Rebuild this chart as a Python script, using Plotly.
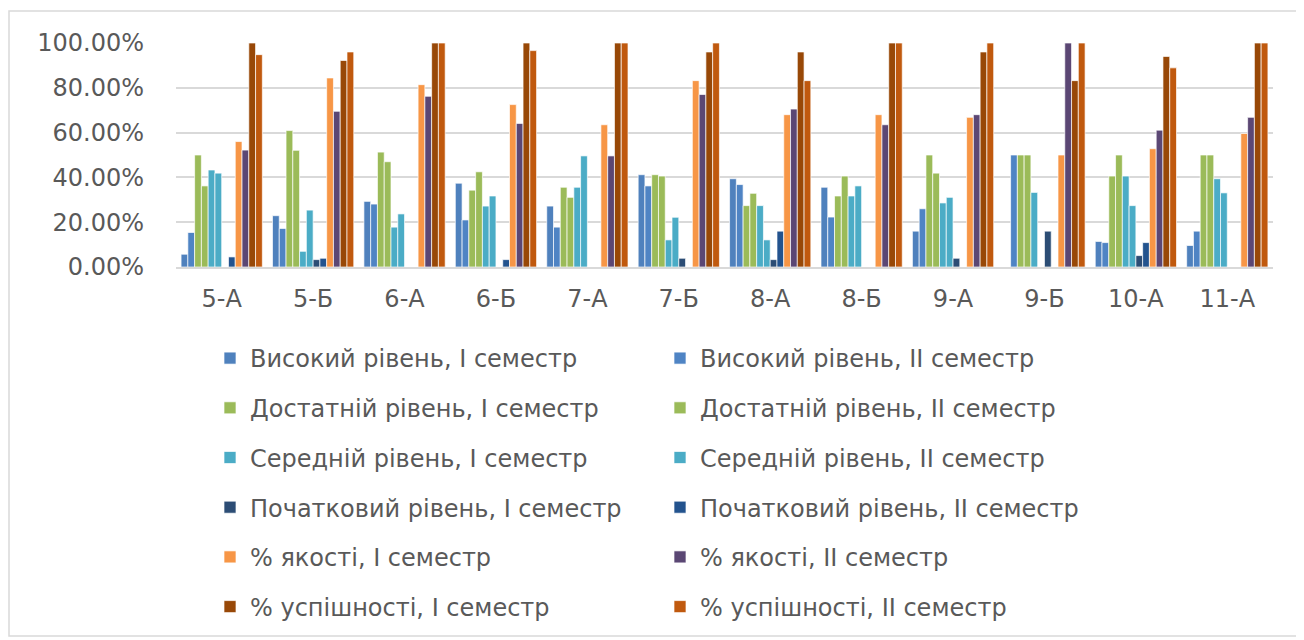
import plotly.graph_objects as go

categories = ['5-А', '5-Б', '6-А', '6-Б', '7-А', '7-Б', '8-А', '8-Б', '9-А', '9-Б', '10-А', '11-А']

high_1 = [5.7, 22.9, 29.3, 37.4, 27.2, 41.2, 39.4, 35.6, 16.0, 0.0, 11.4, 9.6]
high_2 = [15.4, 17.2, 28.1, 21.0, 17.8, 36.2, 36.8, 22.3, 26.0, 50.0, 10.9, 16.0]
suff_1 = [50.0, 60.9, 51.3, 34.3, 35.6, 41.2, 27.4, 31.7, 50.0, 50.0, 40.6, 50.0]
suff_2 = [36.2, 52.1, 47.0, 42.5, 31.1, 40.6, 32.9, 40.6, 41.9, 50.0, 50.0, 50.0]
mid_1 = [43.3, 7.0, 17.8, 27.2, 35.6, 12.1, 27.4, 31.7, 28.6, 33.3, 40.6, 39.4]
mid_2 = [41.9, 25.4, 23.7, 31.7, 49.6, 22.2, 12.1, 36.2, 31.1, 0.0, 27.4, 33.1]
init_1 = [0.0, 3.3, 0.0, 0.0, 0.0, 3.9, 3.3, 0.0, 3.9, 16.0, 5.1, 0.0]
init_2 = [4.5, 3.9, 0.0, 3.3, 0.0, 0.0, 16.0, 0.0, 0.0, 0.0, 10.9, 0.0]
qual_1 = [56.0, 84.4, 81.4, 72.5, 63.5, 83.2, 68.0, 68.0, 66.8, 50.0, 52.8, 59.6]
qual_2 = [52.2, 69.5, 76.2, 64.1, 49.6, 77.0, 70.5, 63.5, 68.0, 100.0, 61.1, 66.8]
succ_1 = [100.0, 92.2, 100.0, 100.0, 100.0, 96.0, 96.0, 100.0, 96.0, 83.2, 94.0, 100.0]
succ_2 = [94.8, 96.0, 100.0, 96.6, 100.0, 100.0, 83.2, 100.0, 100.0, 100.0, 88.9, 100.0]

series_names = [
    'Високий рівень, I семестр', 'Високий рівень, II семестр',
    'Достатній рівень, I семестр', 'Достатній рівень, II семестр',
    'Середній рівень, I семестр', 'Середній рівень, II семестр',
    'Початковий рівень, I семестр', 'Початковий рівень, II семестр',
    '% якості, I семестр', '% якості, II семестр',
    '% успішності, I семестр', '% успішності, II семестр',
]
series_values = [high_1, high_2, suff_1, suff_2, mid_1, mid_2,
                 init_1, init_2, qual_1, qual_2, succ_1, succ_2]
series_colors = ['#4F81BD', '#4F84C4', '#9BBB59', '#9BBB59', '#4BACC6', '#4BACC6',
                 '#2C4D75', '#23538E', '#F79646', '#5B4774', '#984807', '#C0590E']

W, H = 1304, 640
OFF = 8  # page offset of the figure (body margin)
# plot area in page pixels
PX0, PX1, PY0, PY1 = 176, 1273, 43, 267
L = PX0 - OFF
R = W - (PX1 - OFF)
T = PY0 - OFF
B = H - (PY1 - OFF)
PW, PH = PX1 - PX0, PY1 - PY0


def px_x(px):
    return (px - PX0) / PW


def px_y(py):
    return 1 - (py - PY0) / PH


FONT = 'DejaVu Sans'
TXT = '#595959'
FS = 24

fig = go.Figure()
for i, (name, vals, col) in enumerate(zip(series_names, series_values, series_colors)):
    fig.add_trace(go.Bar(
        x=categories, y=[v / 100 for v in vals], name=name,
        marker=dict(color=col, line=dict(color='rgba(255,255,255,0.85)', width=0.8)),
        legend='legend' if i % 2 == 0 else 'legend2',
        legendgroup=name,
    ))

leg_common = dict(
    orientation='v', xanchor='left', yanchor='top',
    font=dict(family=FONT, size=FS, color=TXT),
    bgcolor='rgba(0,0,0,0)', tracegroupgap=15.5, itemclick=False, itemdoubleclick=False,
)

fig.update_layout(
    width=W, height=H,
    margin=dict(l=L, r=R, t=T, b=B),
    paper_bgcolor='white', plot_bgcolor='white',
    barmode='group', bargap=0.111, bargroupgap=0,
    font=dict(family=FONT, color=TXT),
    showlegend=True,
    legend=dict(x=px_x(210), y=px_y(336), **leg_common),
    legend2=dict(x=px_x(660), y=px_y(336), **leg_common),
    xaxis=dict(
        showgrid=False, showline=True, linecolor='#D9D9D9', linewidth=1.5,
        tickfont=dict(family=FONT, size=FS, color=TXT), ticks='',
        ticklabelstandoff=9,
    ),
    yaxis=dict(
        range=[0, 1], tickvals=[0, 0.2, 0.4, 0.6, 0.8, 1.0], tickformat='.2%',
        showgrid=True, gridcolor='#D9D9D9', gridwidth=1.5, zeroline=False,
        showline=False, tickfont=dict(family=FONT, size=FS, color=TXT), ticks='',
        ticklabelstandoff=31,
    ),
    shapes=[dict(
        type='rect', xref='paper', yref='paper',
        x0=px_x(9), x1=px_x(1299), y0=px_y(11), y1=px_y(636),
        line=dict(color='#D9D9D9', width=1.5), fillcolor='rgba(0,0,0,0)', layer='below',
    )],
)

fig.write_html('out.html')
